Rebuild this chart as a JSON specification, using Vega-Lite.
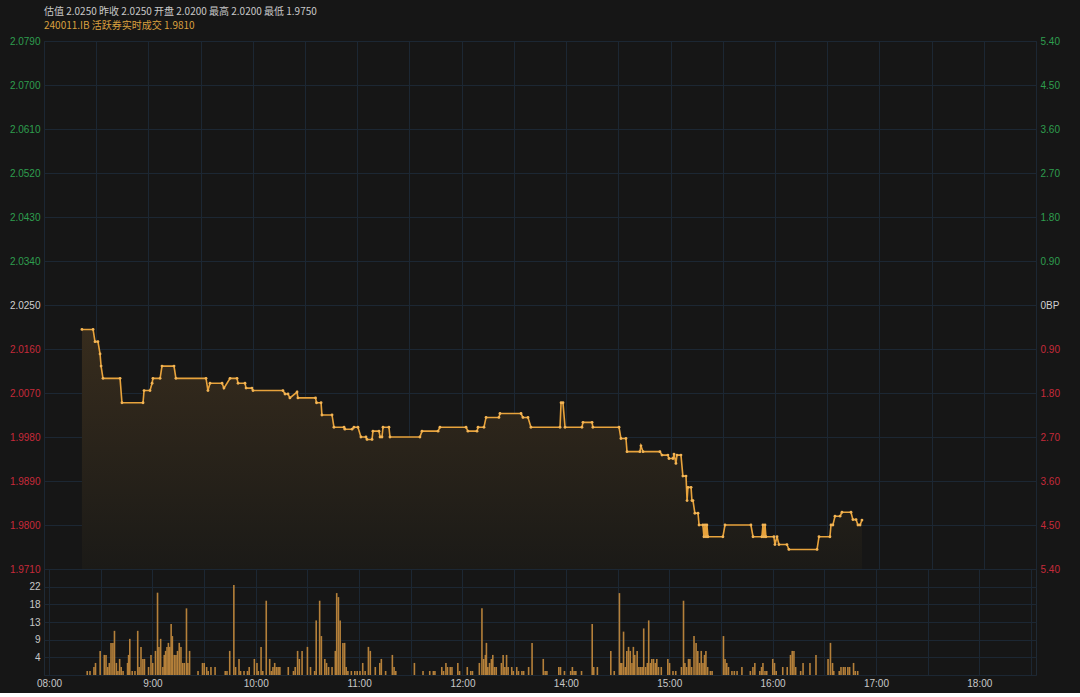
{
  "$schema": "https://vega.github.io/schema/vega-lite/v6.json",
  "background": "#161616",
  "padding": {"left": 8, "top": 6, "right": 20, "bottom": 4},
  "bounds": "flush",
  "title": {
    "text": "估值 2.0250  昨收 2.0250  开盘 2.0200  最高 2.0200  最低 1.9750",
    "subtitle": "240011.IB  活跃券实时成交 1.9810",
    "anchor": "start",
    "frame": "group",
    "color": "#c8c8c8",
    "subtitleColor": "#d9a03f",
    "font": "Noto Sans CJK SC",
    "subtitleFont": "Noto Sans CJK SC",
    "fontSize": 10,
    "subtitleFontSize": 10,
    "fontWeight": "normal",
    "offset": 5,
    "subtitlePadding": 4
  },
  "datasets": {
    "price": [
      {"t":21.8,"p":2.020},{"t":28.2,"p":2.020},{"t":29.3,"p":2.0175},{"t":31.0,"p":2.0175},{"t":32.2,"p":2.015},{"t":32.8,"p":2.0125},{"t":33.9,"p":2.010},{"t":43.7,"p":2.010},{"t":44.8,"p":2.005},{"t":56.9,"p":2.005},{"t":57.5,"p":2.0075},{"t":60.9,"p":2.0075},{"t":62.1,"p":2.009},{"t":62.6,"p":2.010},{"t":66.7,"p":2.010},{"t":67.8,"p":2.0125},{"t":74.7,"p":2.0125},{"t":75.8,"p":2.010},{"t":93.1,"p":2.010},{"t":94.2,"p":2.0075},{"t":95.4,"p":2.009},{"t":102.3,"p":2.009},{"t":103.4,"p":2.008},{"t":106.9,"p":2.010},{"t":110.9,"p":2.010},{"t":111.5,"p":2.009},{"t":115.5,"p":2.009},{"t":116.1,"p":2.008},{"t":119.5,"p":2.008},{"t":120.1,"p":2.0075},{"t":137.3,"p":2.0075},{"t":138.5,"p":2.0068},{"t":140.2,"p":2.0068},{"t":141.3,"p":2.006},{"t":145.4,"p":2.0072},{"t":145.9,"p":2.006},{"t":156.0,"p":2.006},{"t":156.6,"p":2.005},{"t":159.2,"p":2.005},{"t":159.7,"p":2.0025},{"t":165.5,"p":2.0025},{"t":166.6,"p":2.000},{"t":172.4,"p":2.000},{"t":172.9,"p":1.9996},{"t":177.0,"p":1.9996},{"t":178.1,"p":2.000},{"t":180.4,"p":2.000},{"t":182.1,"p":1.998},{"t":185.0,"p":1.998},{"t":185.6,"p":1.9975},{"t":188.5,"p":1.9975},{"t":189.0,"p":1.9992},{"t":192.5,"p":1.9992},{"t":193.1,"p":1.998},{"t":194.2,"p":1.998},{"t":194.8,"p":2.000},{"t":198.2,"p":2.000},{"t":198.8,"p":1.998},{"t":216.0,"p":1.998},{"t":217.2,"p":1.9992},{"t":226.4,"p":1.9992},{"t":227.5,"p":2.000},{"t":242.5,"p":2.000},{"t":243.6,"p":1.9992},{"t":248.8,"p":1.9992},{"t":249.4,"p":2.000},{"t":252.8,"p":2.000},{"t":254.0,"p":2.002},{"t":261.4,"p":2.002},{"t":262.0,"p":2.0028},{"t":274.1,"p":2.0028},{"t":275.2,"p":2.002},{"t":278.1,"p":2.002},{"t":279.8,"p":2.000},{"t":296.5,"p":2.000},{"t":297.1,"p":2.005},{"t":298.2,"p":2.005},{"t":299.4,"p":2.000},{"t":309.1,"p":2.000},{"t":309.7,"p":2.001},{"t":314.9,"p":2.001},{"t":315.4,"p":2.000},{"t":330.4,"p":2.000},{"t":331.5,"p":1.9977},{"t":334.4,"p":1.9977},{"t":335.0,"p":1.995},{"t":342.4,"p":1.995},{"t":343.0,"p":1.9962},{"t":344.2,"p":1.995},{"t":353.9,"p":1.995},{"t":355.1,"p":1.9943},{"t":358.5,"p":1.9943},{"t":359.1,"p":1.9936},{"t":361.4,"p":1.9936},{"t":362.0,"p":1.9945},{"t":363.1,"p":1.9926},{"t":363.7,"p":1.9943},{"t":366.0,"p":1.9943},{"t":367.1,"p":1.990},{"t":368.9,"p":1.990},{"t":369.5,"p":1.985},{"t":370.0,"p":1.9877},{"t":371.8,"p":1.9877},{"t":372.3,"p":1.985},{"t":372.9,"p":1.985},{"t":374.0,"p":1.9824},{"t":375.8,"p":1.9824},{"t":376.4,"p":1.980},{"t":378.6,"p":1.980},{"t":379.2,"p":1.9776},{"t":379.8,"p":1.980},{"t":380.4,"p":1.9776},{"t":380.9,"p":1.980},{"t":381.5,"p":1.9776},{"t":390.1,"p":1.9776},{"t":391.3,"p":1.980},{"t":406.2,"p":1.980},{"t":407.4,"p":1.9776},{"t":412.5,"p":1.9776},{"t":413.1,"p":1.980},{"t":413.7,"p":1.9776},{"t":414.3,"p":1.980},{"t":414.8,"p":1.9776},{"t":419.4,"p":1.9776},{"t":420.0,"p":1.976},{"t":421.2,"p":1.9776},{"t":422.3,"p":1.976},{"t":426.9,"p":1.976},{"t":428.0,"p":1.975},{"t":444.2,"p":1.975},{"t":445.3,"p":1.9776},{"t":451.6,"p":1.9776},{"t":452.2,"p":1.980},{"t":453.3,"p":1.980},{"t":454.5,"p":1.9818},{"t":457.4,"p":1.9818},{"t":458.5,"p":1.9826},{"t":463.7,"p":1.9826},{"t":464.8,"p":1.9811},{"t":466.6,"p":1.9811},{"t":467.7,"p":1.980},{"t":468.9,"p":1.980},{"t":470.0,"p":1.981}
    ],
    "vol": [
      {"t":22.2,"v":1},{"t":23.8,"v":1},{"t":26.1,"v":2},{"t":27,"v":3},{"t":29.7,"v":6},{"t":32.1,"v":5},{"t":33.1,"v":5},{"t":34.1,"v":2},{"t":35,"v":3},{"t":36,"v":8},{"t":37.1,"v":8},{"t":38,"v":11},{"t":39.1,"v":3},{"t":40,"v":1},{"t":41,"v":4},{"t":41.9,"v":2},{"t":43,"v":1},{"t":45.6,"v":3},{"t":46.2,"v":5},{"t":46.9,"v":9},{"t":48.3,"v":1},{"t":49.9,"v":1},{"t":51.5,"v":11},{"t":52.3,"v":2},{"t":53.4,"v":7},{"t":54.5,"v":4},{"t":55.4,"v":4},{"t":57.8,"v":2},{"t":59.2,"v":5},{"t":60.2,"v":3},{"t":61.8,"v":6},{"t":63,"v":20.5},{"t":63.8,"v":7},{"t":64.8,"v":9},{"t":66.1,"v":2},{"t":66.9,"v":5},{"t":67.7,"v":6},{"t":68.5,"v":7},{"t":69.3,"v":8},{"t":70.1,"v":7},{"t":70.9,"v":12.7},{"t":71.6,"v":9.7},{"t":72.7,"v":5},{"t":73.7,"v":5},{"t":74.6,"v":6},{"t":75.6,"v":8},{"t":76.6,"v":7},{"t":77.6,"v":3},{"t":78.6,"v":3},{"t":79.8,"v":16.6},{"t":80.6,"v":3},{"t":81.6,"v":6},{"t":86.5,"v":1},{"t":89.1,"v":3},{"t":90.1,"v":3},{"t":91.5,"v":2},{"t":92.4,"v":1},{"t":94,"v":2},{"t":96.4,"v":2},{"t":102.3,"v":1},{"t":103.3,"v":1},{"t":104.9,"v":6},{"t":107.3,"v":22.4},{"t":108.3,"v":2},{"t":110.3,"v":4},{"t":111.2,"v":1},{"t":113.2,"v":1},{"t":115.2,"v":1},{"t":116.2,"v":2},{"t":119.2,"v":4},{"t":120.7,"v":3},{"t":121.5,"v":1},{"t":123.1,"v":7},{"t":124.1,"v":1},{"t":126.1,"v":18.5},{"t":128.1,"v":4},{"t":129.1,"v":1},{"t":130,"v":2},{"t":131,"v":3},{"t":132,"v":2},{"t":133,"v":2},{"t":134,"v":2},{"t":138.9,"v":2},{"t":141.9,"v":1},{"t":142.9,"v":2},{"t":144.3,"v":6},{"t":145.3,"v":4},{"t":146.9,"v":6},{"t":150,"v":7},{"t":151.8,"v":2},{"t":154.2,"v":1},{"t":155.1,"v":13.6},{"t":157.1,"v":18.5},{"t":158.1,"v":9.7},{"t":160.1,"v":4},{"t":161.1,"v":3},{"t":162.3,"v":2},{"t":164.3,"v":2},{"t":166.2,"v":6},{"t":167,"v":20.4},{"t":168,"v":19.4},{"t":169,"v":13.6},{"t":170.6,"v":8},{"t":171.6,"v":8},{"t":172.5,"v":2},{"t":173.5,"v":1},{"t":175.5,"v":1},{"t":177.5,"v":1},{"t":178.9,"v":1},{"t":180.5,"v":1},{"t":182.1,"v":3},{"t":183.5,"v":1},{"t":185.4,"v":7},{"t":186.5,"v":6},{"t":189.4,"v":2},{"t":192,"v":3},{"t":192.9,"v":4},{"t":195.4,"v":1},{"t":199.3,"v":5},{"t":200.3,"v":2},{"t":201.3,"v":1},{"t":212.1,"v":3},{"t":217.1,"v":1},{"t":221,"v":1},{"t":223.1,"v":1},{"t":224,"v":1},{"t":228,"v":2},{"t":229,"v":1},{"t":230.4,"v":3},{"t":231.3,"v":2},{"t":232.9,"v":2},{"t":233.9,"v":2},{"t":237.3,"v":3},{"t":238.3,"v":1},{"t":242.8,"v":2},{"t":244.8,"v":1},{"t":245.8,"v":1},{"t":249.8,"v":3},{"t":251.3,"v":16.6},{"t":252.3,"v":4},{"t":253.3,"v":5},{"t":253.9,"v":8},{"t":254.7,"v":2},{"t":255.7,"v":3},{"t":256.8,"v":4},{"t":257.6,"v":5},{"t":258.6,"v":2},{"t":259.6,"v":2},{"t":262.6,"v":3},{"t":263.6,"v":5},{"t":264.6,"v":2},{"t":265.6,"v":5},{"t":266.5,"v":2},{"t":268.6,"v":2},{"t":269.5,"v":1},{"t":271.5,"v":2},{"t":272.5,"v":1},{"t":274.5,"v":1},{"t":275.5,"v":1},{"t":278.4,"v":2},{"t":280.4,"v":8},{"t":286.9,"v":4},{"t":288,"v":1},{"t":289,"v":1},{"t":295.9,"v":2},{"t":296.9,"v":2},{"t":299.2,"v":1},{"t":302.8,"v":1},{"t":303.8,"v":2},{"t":304.8,"v":1},{"t":305.8,"v":1},{"t":309.1,"v":1},{"t":315.3,"v":12.7},{"t":316.2,"v":2},{"t":318.3,"v":2},{"t":326.1,"v":6},{"t":328.1,"v":1},{"t":331.1,"v":20.4},{"t":331.9,"v":3},{"t":332.5,"v":3},{"t":333.5,"v":10.8},{"t":334.5,"v":2},{"t":335.4,"v":6},{"t":336.4,"v":7},{"t":337.4,"v":6},{"t":338.4,"v":3},{"t":339.2,"v":7},{"t":340,"v":5},{"t":341.4,"v":6},{"t":342.4,"v":2},{"t":343.4,"v":2},{"t":344.3,"v":2},{"t":345.2,"v":11.6},{"t":346.3,"v":2},{"t":347.3,"v":3},{"t":348.1,"v":13.6},{"t":349.1,"v":3},{"t":349.9,"v":4},{"t":350.9,"v":4},{"t":351.9,"v":3},{"t":352.8,"v":4},{"t":353.8,"v":2},{"t":355.4,"v":2},{"t":359.2,"v":4},{"t":360.2,"v":3},{"t":362.2,"v":1},{"t":363.8,"v":1},{"t":367.1,"v":2},{"t":368.3,"v":18.5},{"t":369.1,"v":3},{"t":370.1,"v":2},{"t":371.2,"v":4},{"t":372,"v":4},{"t":373,"v":2},{"t":374.4,"v":9.7},{"t":375.6,"v":8},{"t":376.6,"v":6},{"t":377.6,"v":3},{"t":378.6,"v":6},{"t":379.6,"v":3},{"t":380.5,"v":5},{"t":381.3,"v":6},{"t":382.3,"v":2},{"t":383.9,"v":1},{"t":384.9,"v":1},{"t":391.5,"v":9.7},{"t":392.4,"v":4},{"t":393.4,"v":3},{"t":394.4,"v":2},{"t":396.4,"v":1},{"t":397.8,"v":1},{"t":399.4,"v":1},{"t":402.2,"v":2},{"t":407.1,"v":1},{"t":408.6,"v":2},{"t":409.7,"v":3},{"t":412.6,"v":1},{"t":413.6,"v":2},{"t":414.4,"v":3},{"t":415.6,"v":1},{"t":416.6,"v":1},{"t":420.1,"v":4},{"t":421.1,"v":3},{"t":422.1,"v":1},{"t":425.9,"v":2},{"t":428.5,"v":2},{"t":430.4,"v":5},{"t":431.4,"v":6},{"t":432.4,"v":6},{"t":433.4,"v":2},{"t":436.3,"v":1},{"t":437.7,"v":3},{"t":441.7,"v":3},{"t":445.2,"v":5},{"t":452.2,"v":4},{"t":453.6,"v":8},{"t":454.8,"v":3},{"t":455.5,"v":1},{"t":458.7,"v":1},{"t":459.7,"v":2},{"t":461.1,"v":2},{"t":462.1,"v":2},{"t":463.7,"v":2},{"t":464.7,"v":2},{"t":467,"v":3},{"t":468,"v":1},{"t":469.4,"v":1}
    ]
  },
  "spacing": 0,
  "vconcat": [
    {
      "width": 992,
      "height": 528,
      "data": {"name": "price"},
      "layer": [
        {
          "mark": {
            "type": "area",
            "color": {"gradient": "linear", "x1": 0, "y1": 0, "x2": 0, "y2": 1,
              "stops": [{"offset": 0, "color": "#372c1d"}, {"offset": 1, "color": "#1b1a17"}]}
          },
          "encoding": {
            "x": {"field": "t", "type": "quantitative",
              "scale": {"domain": [0, 570], "nice": false, "zero": false},
              "axis": {"values": [0,30,60,90,120,150,180,210,240,270,300,330,360,390,420,450,480,510,540,570], "labels": false, "grid": true, "title": null}},
            "y": {"field": "p", "type": "quantitative",
              "scale": {"domain": [1.971, 2.079], "nice": false, "zero": false},
              "axis": {"orient": "left", "values": [1.971,1.98,1.989,1.998,2.007,2.016,2.025,2.034,2.043,2.052,2.061,2.07,2.079],
                "format": ".4f", "grid": true, "title": null, "labelPadding": 4,
                "labelColor": {"expr": "datum.value > 2.0251 ? '#2e9e4e' : (datum.value < 2.0249 ? '#c62a3a' : '#d0d0d0')"}}},
            "y2": {"datum": 1.971}
          }
        },
        {
          "mark": {"type": "line", "color": "#e8a33c", "strokeWidth": 1.6,
            "point": {"filled": true, "size": 8, "color": "#f2b455"}},
          "encoding": {
            "x": {"field": "t", "type": "quantitative"},
            "y": {"field": "p", "type": "quantitative",
              "axis": {"orient": "right", "values": [1.971,1.98,1.989,1.998,2.007,2.016,2.025,2.034,2.043,2.052,2.061,2.07,2.079],
                "grid": false, "title": null, "labelPadding": 4,
                "labelExpr": "abs(datum.value - 2.025) < 0.0001 ? '0BP' : format(abs(datum.value - 2.025) * 100, '.2f')",
                "labelColor": {"expr": "datum.value > 2.0251 ? '#2e9e4e' : (datum.value < 2.0249 ? '#c62a3a' : '#d0d0d0')"}}}
          }
        }
      ],
      "resolve": {"axis": {"y": "independent"}}
    },
    {
      "width": 992,
      "height": 106,
      "data": {"name": "vol"},
      "mark": {"type": "bar", "width": 1.6, "color": "#b5803a"},
      "encoding": {
        "x": {"field": "t", "type": "quantitative",
          "scale": {"domain": [0, 570], "nice": false, "zero": false},
          "axis": {"values": [0,30,60,90,120,150,180,210,240,270,300,330,360,390,420,450,480,510,540,570],
            "grid": true, "title": null, "labelPadding": 3,
            "labelExpr": "datum.value == 0 ? '08:00' : (datum.value % 60 != 0 || datum.value > 560 ? '' : (datum.value < 270 ? 8 + datum.value / 60 : 9 + datum.value / 60) + ':00')"}},
        "y": {"field": "v", "type": "quantitative",
          "scale": {"domain": [0, 26.4], "nice": false},
          "axis": {"values": [0, 4.4, 8.8, 13.2, 17.6, 22, 26.4], "grid": true, "title": null, "labelPadding": 4,
            "labelExpr": "datum.value < 1 || datum.value > 25 ? '' : format(datum.value, '.0f')"}}
      }
    }
  ],
  "config": {
    "view": {"stroke": "#1f2a35"},
    "axis": {
      "labelFont": "Liberation Sans",
      "labelFontSize": 10,
      "labelColor": "#c8c8c8",
      "domain": false,
      "ticks": false,
      "gridColor": "#1c2733",
      "gridWidth": 1,
      "labelFlush": false,
      "labelOverlap": false
    }
  }
}
